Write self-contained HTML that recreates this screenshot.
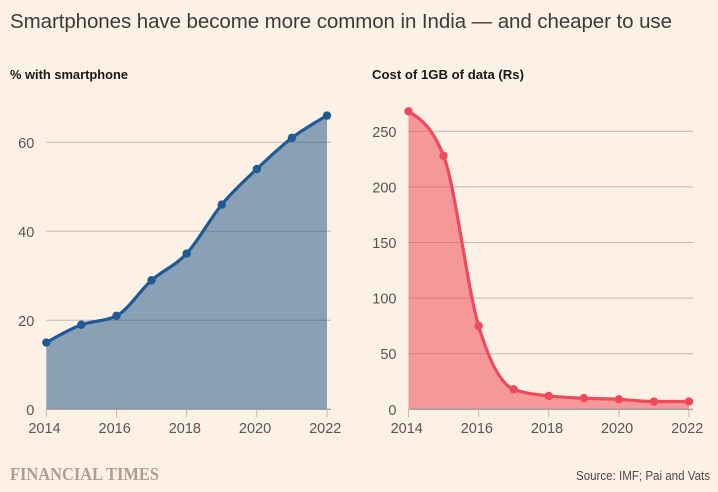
<!DOCTYPE html>
<html lang="en">
<head>
<meta charset="utf-8">
<title>Smartphones in India</title>
<style>
html,body{margin:0;padding:0;background:#fff1e5;}
body{width:718px;height:492px;overflow:hidden;}
svg{display:block;font-family:"Liberation Sans",sans-serif;}
</style>
</head>
<body>
<svg id="chart" xmlns="http://www.w3.org/2000/svg" width="718" height="492" viewBox="0 0 718 492">
  <rect width="718" height="492" fill="#fdf0e5"/>
  <text x="10" y="28" font-size="20.5" fill="#3d3a38" textLength="662" lengthAdjust="spacing">Smartphones have become more common in India — and cheaper to use</text>
  <text x="10" y="79" font-size="13" font-weight="bold" fill="#1a1816" textLength="118" lengthAdjust="spacingAndGlyphs">% with smartphone</text>
  <text x="372" y="79" font-size="13" font-weight="bold" fill="#1a1816" textLength="152" lengthAdjust="spacingAndGlyphs">Cost of 1GB of data (Rs)</text>
  <g id="left-panel"></g>
  <g id="right-panel"></g>
  <text x="10" y="480" font-family="'Liberation Serif',serif" font-size="17.5" font-weight="bold" fill="#aa9f95" textLength="149" lengthAdjust="spacingAndGlyphs">FINANCIAL TIMES</text>
  <text x="710" y="480" text-anchor="end" font-size="12.5" fill="#4f4a46" textLength="134" lengthAdjust="spacingAndGlyphs">Source: IMF; Pai and Vats</text>
</svg>
<script>
var years = [2014, 2015, 2016, 2017, 2018, 2019, 2020, 2021, 2022];
var smartphoneShare = [15, 19, 21, 29, 35, 46, 54, 61, 66];
var dataCost = [268, 228, 75, 18, 12, 10, 9, 7, 7];
var xTickLabels = [2014, 2016, 2018, 2020, 2022];
var leftYTicks = [0, 20, 40, 60];
var rightYTicks = [0, 50, 100, 150, 200, 250];

var NS = 'http://www.w3.org/2000/svg';

function node(parent, tag, attrs) {
  var el = document.createElementNS(NS, tag);
  for (var k in attrs) el.setAttribute(k, attrs[k]);
  parent.appendChild(el);
  return el;
}

function monotonePath(pts) {
  var n = pts.length, dx = [], m = [], t = [], i;
  for (i = 0; i < n - 1; i++) {
    dx[i] = pts[i + 1][0] - pts[i][0];
    m[i] = (pts[i + 1][1] - pts[i][1]) / dx[i];
  }
  for (i = 1; i < n - 1; i++) {
    if (m[i - 1] * m[i] <= 0) {
      t[i] = 0;
    } else {
      var p = (m[i - 1] * dx[i] + m[i] * dx[i - 1]) / (dx[i - 1] + dx[i]);
      t[i] = (m[i - 1] > 0 ? 1 : -1) * Math.min(Math.abs(m[i - 1]), Math.abs(m[i]), 0.5 * Math.abs(p)) * 2;
    }
  }
  t[0] = (3 * m[0] - t[1]) / 2;
  t[n - 1] = (3 * m[n - 2] - t[n - 2]) / 2;
  var d = 'M' + pts[0][0] + ',' + pts[0][1];
  for (i = 0; i < n - 1; i++) {
    var h = dx[i] / 3;
    d += 'C' + (pts[i][0] + h) + ',' + (pts[i][1] + t[i] * h) + ' ' +
         (pts[i + 1][0] - h) + ',' + (pts[i + 1][1] - t[i + 1] * h) + ' ' +
         pts[i + 1][0] + ',' + pts[i + 1][1];
  }
  return d;
}

function drawPanel(opts) {
  var g = document.getElementById(opts.id);
  var x0 = opts.x0, x1 = opts.x1, base = 409.3;
  var xScale = function (v) {
    return x0 + (v - years[0]) / (years[years.length - 1] - years[0]) * (x1 - x0);
  };
  var yScale = function (v) { return base - v * opts.pxPerUnit; };

  opts.yTicks.forEach(function (tick) {
    var y = yScale(tick);
    if (tick !== 0) {
      var line = node(g, 'line', {x1: x0, x2: x1 + 4, y1: y, y2: y, stroke: '#c4b9ae', 'stroke-width': 1});
      
      
    }
    var lab = node(g, 'text', {x: x0 - 12, y: y + 5.5, 'text-anchor': 'end', 'font-size': 14.5, fill: '#5a5550'});
    
    
    lab.textContent = tick;
  });

  var pts = opts.values.map(function (v, i) { return [xScale(years[i]), yScale(v)]; });
  var curve = monotonePath(pts);

  var area = node(g, 'path', {d: curve + 'L' + pts[pts.length - 1][0] + ',' + base + 'L' + pts[0][0] + ',' + base + 'Z', fill: opts.areaColor, 'fill-opacity': opts.areaOpacity});
  
  

  var axis = node(g, 'line', {x1: x0, x2: x1 + 4, y1: base, y2: base, stroke: '#8c8580', 'stroke-width': 1});
  
  

  xTickLabels.forEach(function (yr) {
    var x = xScale(yr);
    var tick = node(g, 'line', {x1: x, x2: x, y1: base, y2: base + 8, stroke: '#c4b9ae', 'stroke-width': 1});
    
    
    var lab = node(g, 'text', {x: x - 1.8, y: 433, 'text-anchor': 'middle', 'font-size': 14.5, fill: '#5a5550'});
    
    
    lab.textContent = yr;
  });

  var line = node(g, 'path', {d: curve, fill: 'none', stroke: opts.lineColor, 'stroke-width': 3.2, 'stroke-linejoin': 'round'});
  
  

  pts.forEach(function (p) {
    var c = node(g, 'circle', {cx: p[0], cy: p[1], r: 4.2, fill: opts.lineColor});
    
    
  });
}

drawPanel({id: 'left-panel', x0: 46.3, x1: 327, pxPerUnit: 4.45, values: smartphoneShare, yTicks: leftYTicks, lineColor: '#1f5a96', areaColor: '#175186', areaOpacity: 0.5});
drawPanel({id: 'right-panel', x0: 408.5, x1: 689, pxPerUnit: 1.112, values: dataCost, yTicks: rightYTicks, lineColor: '#f0495c', areaColor: '#ec3f50', areaOpacity: 0.5});
</script>
</body>
</html>
